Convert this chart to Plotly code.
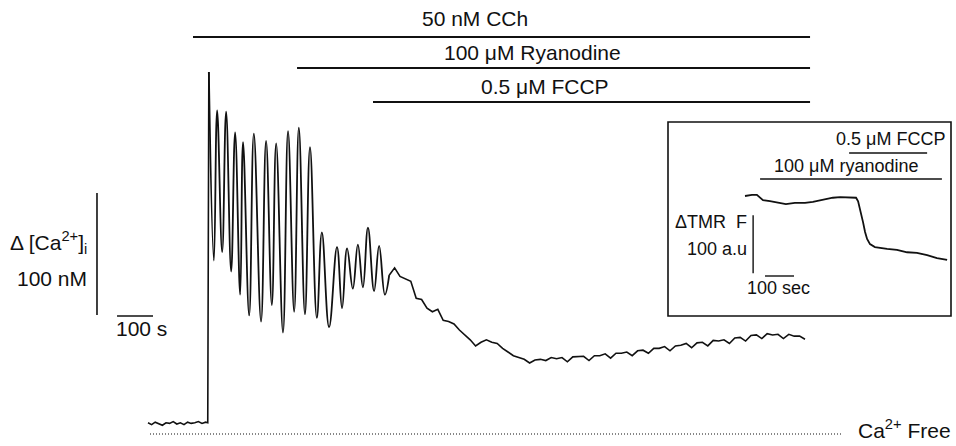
import plotly.graph_objects as go

W, H = 956, 446

# ---------------- main trace data: time (s) vs delta [Ca2+]i (nM) ----------------
base_t = [0, 10, 20, 30, 40, 50, 60, 70, 80, 90, 100, 110, 120, 130, 140, 150, 160, 166]
base_ca = [1, -0.5, 1.5, 0, -1, 1, 0.5, 2, 0, 1, -0.5, 1.5, 0.5, 1, 2, 0.5, 1.5, 1]

osc_t = [169, 183, 192, 206, 217, 231, 242, 256, 264, 281, 294, 314, 328, 344, 356,
         375, 389, 406, 419, 436, 450, 469, 483, 503, 525, 539, 553, 569, 583, 597,
         611, 628, 642, 658]
osc_ca = [288.5, 134, 257, 141, 256, 125, 239, 106, 231, 89, 238, 84, 232, 97.5, 230,
          75, 240, 92, 243, 90, 227, 87, 157, 79.5, 145, 95, 144, 111, 147, 112,
          161, 109, 146, 106]

tail_t = [670, 685, 700, 715, 730, 745, 760, 775, 790, 805, 820, 835, 850, 865, 880,
          895, 910, 925, 940, 955, 970, 985, 1000, 1015, 1030, 1045, 1060, 1075, 1090,
          1105, 1120, 1135, 1150, 1165, 1180, 1195, 1210, 1225, 1240, 1255, 1270, 1285,
          1300, 1315, 1330, 1345, 1360, 1375, 1390, 1405, 1420, 1435, 1450, 1465, 1480,
          1495, 1510, 1525, 1540, 1555, 1570, 1585, 1600, 1615, 1630, 1645, 1660, 1675,
          1690, 1705, 1720, 1735, 1750, 1765, 1780, 1795, 1810, 1825]
tail_ca = [122, 128, 121, 119, 117, 103, 102, 95, 92, 94, 85, 84, 82, 77, 73,
           69, 64, 67, 69, 67, 66, 62, 59, 56, 54.5, 53, 50, 52.5, 53,
           52, 54.5, 53.5, 54.5, 51, 55, 55, 55.5, 52, 56, 56, 57.5, 54,
           58, 58, 59, 56, 60, 60.5, 58, 62, 62, 63.5, 60, 64, 64.5,
           66, 62.5, 66.5, 67, 64, 68.5, 68, 69, 66, 70.5, 71, 68, 72.5,
           73, 70, 74, 73, 73.5, 70, 73.5, 72, 72, 69.5]

# drug applications (start, end in s)
drugs = ["50 nM CCh", "100 μM Ryanodine", "0.5 μM FCCP"]
drug_start = [125, 414, 625]
drug_end = [1839, 1839, 1839]

# ---------------- inset data: time (s) vs TMR fluorescence (a.u.) ----------------
ins_t = [0, 24, 41, 62, 86, 114, 141, 172, 207, 234, 259, 283, 303, 328, 355, 372,
         383, 390, 400, 407, 414, 421, 431, 448, 490, 524, 559, 593, 628, 662, 697]
ins_f = [500, 502, 502, 493, 491, 488, 486, 488, 488, 490, 493, 495, 497, 498, 498, 498,
         497, 491, 472, 455, 438, 426, 417, 412, 409, 407, 403, 402, 398, 393, 390]
ins_drugs = ["0.5 μM FCCP", "100 μM ryanodine"]
ins_start = [359, 52]
ins_end = [628, 679]

# ---------------- geometry (pixel layout) ----------------
X0, SX = 148, 0.36      # px of t=0, px per s
Y0, SY = 424, 1.22      # px of 0 nM, px per nM
IX0, ISX = 745, 0.29
IY0, ISY = 196, 0.58    # px of F=500


def pxx(x):
    return x / W


def pxy(y):
    return 1 - y / H


FONT = "Liberation Sans, Arial, sans-serif"
BLACK = "#111111"
MAIN_FS = 21
INS_FS = 18

fig = go.Figure()
fig.add_trace(go.Scatter(x=base_t + [osc_t[0]], y=base_ca + [osc_ca[0]], mode="lines",
                         line=dict(color=BLACK, width=1.6), hoverinfo="skip"))
fig.add_trace(go.Scatter(x=osc_t + [tail_t[0]], y=osc_ca + [tail_ca[0]], mode="lines",
                         line=dict(color=BLACK, width=1.8, shape="spline", smoothing=1.2),
                         hoverinfo="skip"))
fig.add_trace(go.Scatter(x=tail_t, y=tail_ca, mode="lines",
                         line=dict(color=BLACK, width=1.6), hoverinfo="skip"))
fig.add_trace(go.Scatter(x=ins_t, y=ins_f, mode="lines", xaxis="x2", yaxis="y2",
                         line=dict(color=BLACK, width=1.8), hoverinfo="skip"))

shapes = []
annotations = []

# drug bars main
bar_y = [37, 68, 102]
lab_y = [18, 52, 86]
lab_x = [475, 532, 545]
for name, s, e, by, ly, lx in zip(drugs, drug_start, drug_end, bar_y, lab_y, lab_x):
    shapes.append(dict(type="line", xref="x", yref="paper", x0=s, x1=e,
                       y0=pxy(by), y1=pxy(by), line=dict(color=BLACK, width=1.8)))
    annotations.append(dict(text=name, xref="paper", yref="paper", x=pxx(lx), y=pxy(ly),
                            showarrow=False, font=dict(size=MAIN_FS, family=FONT, color=BLACK),
                            xanchor="center", yanchor="middle"))

# scale bars main
shapes.append(dict(type="line", xref="x", yref="y", x0=-141.7, x1=-141.7, y0=89.3, y1=189.3,
                   line=dict(color=BLACK, width=1.6)))
shapes.append(dict(type="line", xref="x", yref="paper", x0=-86, x1=14, y0=pxy(316), y1=pxy(316),
                   line=dict(color=BLACK, width=1.4)))
annotations.append(dict(text="Δ [Ca<sup>2+</sup>]<sub>i</sub>", xref="paper", yref="paper",
                        x=pxx(89), y=pxy(242), xanchor="right", yanchor="middle", showarrow=False,
                        font=dict(size=MAIN_FS, family=FONT, color=BLACK)))
annotations.append(dict(text="100 nM", xref="paper", yref="paper",
                        x=pxx(89), y=pxy(278), xanchor="right", yanchor="middle", showarrow=False,
                        font=dict(size=MAIN_FS, family=FONT, color=BLACK)))
annotations.append(dict(text="100 s", xref="paper", yref="paper",
                        x=pxx(114), y=pxy(328), xanchor="left", yanchor="middle", showarrow=False,
                        font=dict(size=MAIN_FS, family=FONT, color=BLACK)))

# Ca2+ free dotted line
shapes.append(dict(type="line", xref="paper", yref="paper", x0=pxx(150), x1=pxx(843),
                   y0=pxy(434), y1=pxy(434), line=dict(color=BLACK, width=1.2, dash="1px,2px")))
annotations.append(dict(text="Ca<sup>2+</sup> Free", xref="paper", yref="paper",
                        x=pxx(856), y=pxy(429), xanchor="left", yanchor="middle", showarrow=False,
                        font=dict(size=MAIN_FS, family=FONT, color=BLACK)))

# inset box
shapes.append(dict(type="rect", xref="paper", yref="paper", x0=pxx(668), x1=pxx(951),
                   y0=pxy(316), y1=pxy(122), line=dict(color=BLACK, width=1.6)))
ins_bar_y = [153, 179]
ins_lab = [(890, 139), (846, 166)]
for name, s, e, by, (lx, ly) in zip(ins_drugs, ins_start, ins_end, ins_bar_y, ins_lab):
    shapes.append(dict(type="line", xref="x2", yref="paper", x0=s, x1=e,
                       y0=pxy(by), y1=pxy(by), line=dict(color=BLACK, width=1.6)))
    annotations.append(dict(text=name, xref="paper", yref="paper", x=pxx(lx), y=pxy(ly),
                            showarrow=False, font=dict(size=INS_FS, family=FONT, color=BLACK),
                            xanchor="center", yanchor="middle"))
# inset scale bars
shapes.append(dict(type="line", xref="x2", yref="y2", x0=28, x1=28, y0=367, y1=467,
                   line=dict(color=BLACK, width=1.4)))
shapes.append(dict(type="line", xref="x2", yref="paper", x0=69, x1=169, y0=pxy(276), y1=pxy(276),
                   line=dict(color=BLACK, width=1.4)))
annotations.append(dict(text="ΔTMR  F", xref="paper", yref="paper", x=pxx(749), y=pxy(222),
                        xanchor="right", yanchor="middle", showarrow=False,
                        font=dict(size=INS_FS, family=FONT, color=BLACK)))
annotations.append(dict(text="100 a.u", xref="paper", yref="paper", x=pxx(749), y=pxy(249),
                        xanchor="right", yanchor="middle", showarrow=False,
                        font=dict(size=INS_FS, family=FONT, color=BLACK)))
annotations.append(dict(text="100 sec", xref="paper", yref="paper", x=pxx(778), y=pxy(288),
                        xanchor="center", yanchor="middle", showarrow=False,
                        font=dict(size=INS_FS, family=FONT, color=BLACK)))

ax_common = dict(visible=False, showgrid=False, zeroline=False, fixedrange=True)
fig.update_layout(
    width=W, height=H, autosize=False,
    margin=dict(l=0, r=0, t=0, b=0, pad=0),
    paper_bgcolor="white", plot_bgcolor="white",
    showlegend=False,
    xaxis=dict(range=[(0 - X0) / SX, (W - X0) / SX], domain=[0, 1], **ax_common),
    yaxis=dict(range=[(Y0 - H) / SY, Y0 / SY], domain=[0, 1], **ax_common),
    xaxis2=dict(range=[(0 - IX0) / ISX, (W - IX0) / ISX], overlaying="x", anchor="y2", **ax_common),
    yaxis2=dict(range=[500 - (H - IY0) / ISY, 500 + IY0 / ISY], overlaying="y", anchor="x2", **ax_common),
    shapes=shapes,
    annotations=annotations,
)

fig.write_html("out.html", config={"displayModeBar": False, "staticPlot": True},
               post_script="document.body.style.margin='0px';document.body.style.overflow='hidden';")
